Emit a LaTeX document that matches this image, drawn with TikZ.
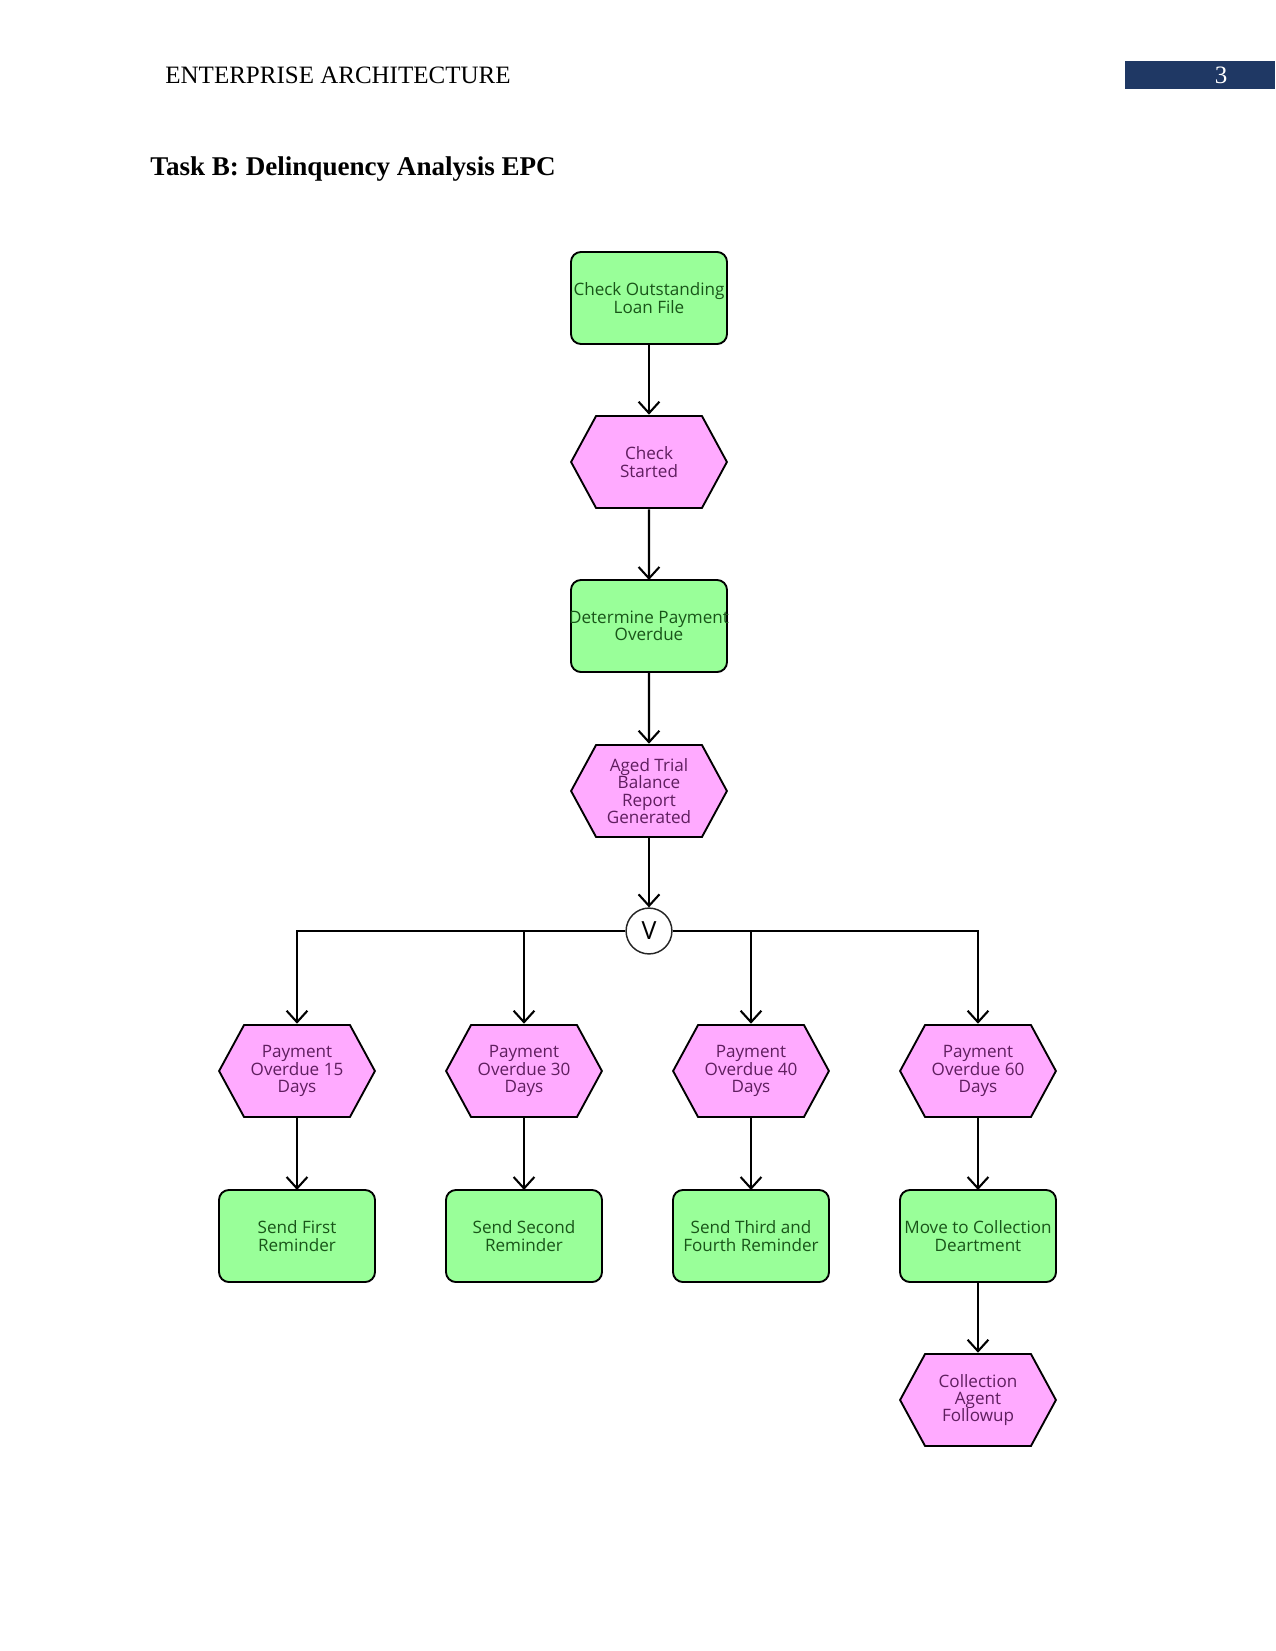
\documentclass[tikz,border=0pt]{standalone}
\usepackage{fontspec}
\setmainfont{Liberation Serif}
\newfontfamily\epcfont{Open Sans}
\usetikzlibrary{arrows.meta}
\definecolor{fnfill}{RGB}{153,255,153}
\definecolor{fntext}{RGB}{25,85,25}
\definecolor{evfill}{RGB}{255,170,255}
\definecolor{evtext}{RGB}{95,30,95}
\definecolor{navy}{RGB}{31,56,100}
\begin{document}
\begin{tikzpicture}[x=0.48pt,y=-0.48pt,
  func/.style={draw=black, line width=0.9pt, fill=fnfill, rounded corners=4.8pt,
    minimum width=74.9pt, minimum height=44.2pt, inner ysep=0pt, inner xsep=-4pt, outer sep=0pt,
    align=center, text=fntext, font=\epcfont\fontsize{8.2}{8.25}\selectfont},
  event/.style={minimum width=76pt, minimum height=45.4pt, inner sep=0pt, outer sep=0pt,
    align=center, text=evtext, font=\epcfont\fontsize{8.2}{8.25}\selectfont,
    path picture={
      \draw[fill=evfill, draw=black, line width=0.9pt]
        ([xshift=0.6pt]path picture bounding box.west)
        -- ([xshift=12.6pt,yshift=-0.6pt]path picture bounding box.north west)
        -- ([xshift=-12.6pt,yshift=-0.6pt]path picture bounding box.north east)
        -- ([xshift=-0.6pt]path picture bounding box.east)
        -- ([xshift=-12.6pt,yshift=0.6pt]path picture bounding box.south east)
        -- ([xshift=12.6pt,yshift=0.6pt]path picture bounding box.south west)
        -- cycle;
    }},
  conn/.style={circle, draw=black!85, line width=0.7pt, fill=white, minimum size=22pt,
    inner sep=0pt, font=\epcfont\fontsize{12}{12}\selectfont},
  flow/.style={draw=black, line width=1pt, -{Straight Barb[length=5.5pt,width=10pt,line width=1pt]}},
  ]
\useasboundingbox (0,0) rectangle (1275,1651);
% header
\node[anchor=base west, inner sep=0pt, font=\fontsize{12}{14}\selectfont] (hdr) at (165,84) {ENTERPRISE ARCHITECTURE};
\fill[navy] (1125,61) rectangle (1275,89);
\node[anchor=base, inner sep=0pt, text=white, font=\fontsize{12}{14}\selectfont] (pg) at (1221,84) {3};
\node[anchor=base west, inner sep=0pt, font=\bfseries\fontsize{13}{15}\selectfont] (title) at (150,176) {Task B: Delinquency Analysis EPC};
% nodes
\node[func] (f1) at (649,298) {Check Outstanding\\Loan File};
\node[event] (e1) at (649,462) {Check\\Started};
\node[func] (f2) at (649,626) {Determine Payment\\Overdue};
\node[event] (e2) at (649,791) {Aged Trial\\Balance\\Report\\Generated};
\node[conn] (or) at (649,931) {V};
\node[event] (e15) at (297,1071) {Payment\\Overdue 15\\Days};
\node[event] (e30) at (524,1071) {Payment\\Overdue 30\\Days};
\node[event] (e40) at (751,1071) {Payment\\Overdue 40\\Days};
\node[event] (e60) at (978,1071) {Payment\\Overdue 60\\Days};
\node[func] (f15) at (297,1236) {Send First\\Reminder};
\node[func] (f30) at (524,1236) {Send Second\\Reminder};
\node[func] (f40) at (751,1236) {Send Third and\\Fourth Reminder};
\node[func] (f60) at (978,1236) {Move to Collection\\Deartment};
\node[event] (e3) at (978,1400) {Collection\\Agent\\Followup};
% connectors
\draw[flow] (f1) -- (e1);
\draw[flow] (e1) -- (f2);
\draw[flow] (f2) -- (e2);
\draw[flow] (e2) -- (or);
\draw[flow] (or.west) -| (e15.north);
\draw[flow] (or.west) -| (e30.north);
\draw[flow] (or.east) -| (e40.north);
\draw[flow] (or.east) -| (e60.north);
\draw[flow] (e15) -- (f15);
\draw[flow] (e30) -- (f30);
\draw[flow] (e40) -- (f40);
\draw[flow] (e60) -- (f60);
\draw[flow] (f60) -- (e3);
\end{tikzpicture}
\end{document}
